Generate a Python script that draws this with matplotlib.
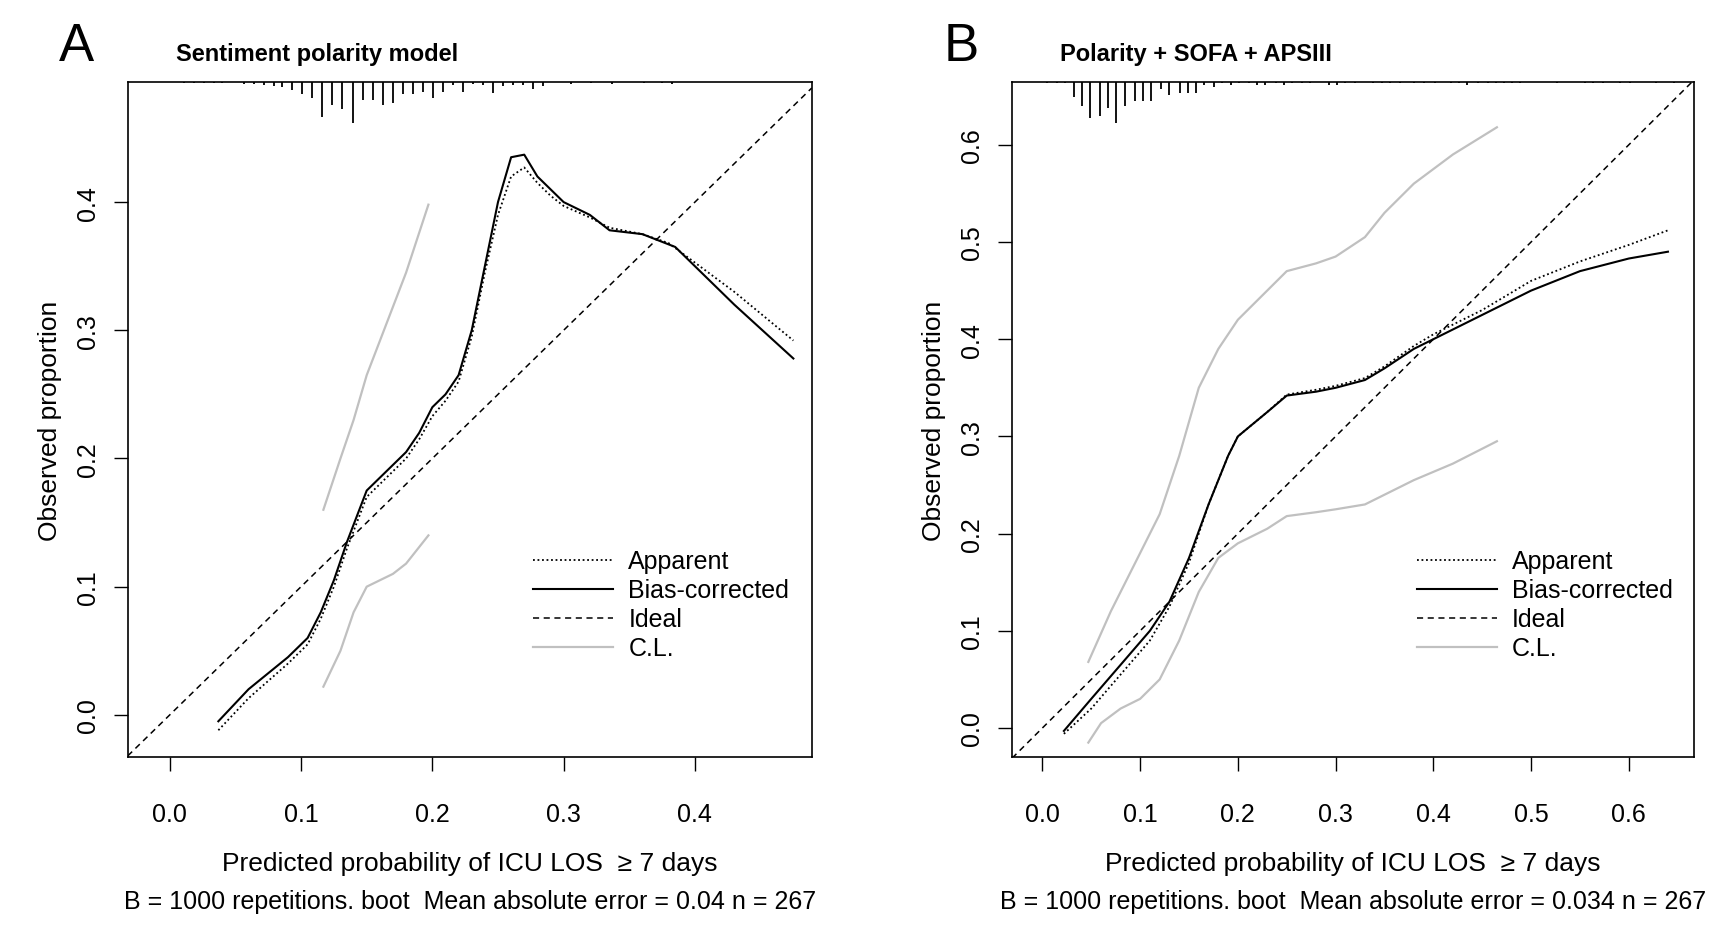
import matplotlib
matplotlib.use("Agg")
import matplotlib.pyplot as plt
import matplotlib.transforms as mtrans
from matplotlib.lines import Line2D

plt.rcParams['font.family'] = ['Liberation Sans Narrow', 'Liberation Sans', 'DejaVu Sans']

# ---------- Panel A data ----------
A_app_x = [0.037,0.06,0.09,0.105,0.115,0.125,0.135,0.15,0.165,0.18,0.19,0.20,0.21,0.22,0.23,0.24,0.25,0.26,0.27,0.28,0.29,0.30,0.32,0.335,0.36,0.38,0.43,0.475]
A_app_y = [-0.012,0.013,0.04,0.055,0.075,0.10,0.13,0.17,0.185,0.20,0.215,0.233,0.245,0.26,0.295,0.345,0.39,0.42,0.427,0.415,0.405,0.397,0.388,0.38,0.375,0.368,0.33,0.292]
A_bc_x = [0.037,0.06,0.09,0.105,0.115,0.125,0.135,0.15,0.165,0.18,0.19,0.20,0.21,0.22,0.23,0.24,0.25,0.26,0.27,0.28,0.29,0.30,0.32,0.335,0.36,0.385,0.43,0.475]
A_bc_y = [-0.005,0.02,0.045,0.06,0.08,0.105,0.135,0.175,0.19,0.205,0.22,0.24,0.25,0.265,0.30,0.35,0.40,0.435,0.437,0.42,0.41,0.40,0.39,0.378,0.375,0.365,0.32,0.278]
A_clu_x = [0.117,0.13,0.14,0.15,0.165,0.18,0.197]
A_clu_y = [0.16,0.20,0.23,0.265,0.305,0.345,0.398]
A_cll_x = [0.117,0.13,0.14,0.15,0.16,0.17,0.18,0.197]
A_cll_y = [0.022,0.05,0.08,0.10,0.105,0.11,0.118,0.14]
A_rug_x = [0.0108,0.0184,0.0261,0.0337,0.0398,0.0566,0.0643,0.0719,0.0796,0.0857,0.0933,0.1010,0.1086,0.1163,0.1239,0.1315,0.1392,0.1468,0.1545,0.1622,0.1698,0.1774,0.1851,0.1927,0.2004,0.2080,0.2156,0.2233,0.2309,0.2386,0.2463,0.2539,0.2615,0.2692,0.2768,0.2845,0.3058,0.3212,0.3365,0.3609,0.3747,0.3824]
A_rug_h = [3,3,3,3,3,5,5,8,10,12,20,30,40,85,55,65,100,45,45,55,50,30,30,25,40,25,8,25,5,8,28,10,8,8,18,10,5,3,5,3,3,5]

# ---------- Panel B data ----------
B_app_x = [0.022,0.05,0.08,0.11,0.13,0.15,0.17,0.19,0.20,0.23,0.25,0.28,0.30,0.33,0.35,0.38,0.40,0.45,0.50,0.55,0.60,0.64]
B_app_y = [-0.006,0.02,0.055,0.09,0.125,0.17,0.23,0.28,0.30,0.325,0.343,0.348,0.352,0.36,0.372,0.393,0.405,0.43,0.46,0.48,0.497,0.512]
B_bc_x = B_app_x
B_bc_y = [-0.003,0.03,0.065,0.10,0.13,0.175,0.23,0.28,0.30,0.325,0.342,0.346,0.35,0.358,0.37,0.39,0.40,0.425,0.45,0.47,0.483,0.49]
B_clu_x = [0.047,0.07,0.10,0.12,0.14,0.16,0.18,0.20,0.23,0.25,0.28,0.30,0.33,0.35,0.38,0.42,0.465]
B_clu_y = [0.068,0.12,0.18,0.22,0.28,0.35,0.39,0.42,0.45,0.47,0.478,0.485,0.505,0.53,0.56,0.59,0.618]
B_cll_x = [0.047,0.06,0.08,0.10,0.12,0.14,0.16,0.18,0.20,0.23,0.25,0.28,0.30,0.33,0.35,0.38,0.42,0.465]
B_cll_y = [-0.015,0.005,0.02,0.03,0.05,0.09,0.14,0.175,0.19,0.205,0.218,0.222,0.225,0.23,0.24,0.255,0.272,0.295]
B_rug_x = [0.0047,0.0152,0.0235,0.0319,0.0402,0.0486,0.0590,0.0674,0.0757,0.0841,0.0945,0.1029,0.1112,0.1216,0.1300,0.1404,0.1488,0.1571,0.1655,0.1759,0.1842,0.1926,0.2010,0.2114,0.2197,0.2281,0.2385,0.2469,0.2552,0.2656,0.2740,0.2928,0.3011,0.3095,0.3199,0.3387,0.3470,0.3554,0.3658,0.3804,0.3909,0.4013,0.4180,0.4264,0.4347,0.4452,0.4556,0.4639,0.4723,0.4806,0.4890,0.527,0.5547,0.5634,0.5738,0.5911,0.6016,0.6275,0.6467]
B_rug_h = [3,3,5,40,65,95,90,70,110,65,50,50,50,20,35,30,30,30,10,15,5,8,5,5,8,10,5,10,3,5,3,8,10,3,3,3,3,3,3,3,3,3,3,3,10,3,3,3,3,3,3,3,3,3,3,3,3,3,3]

fig = plt.figure(figsize=(17.36, 9.28), dpi=100)

def panel(rect, letter, title, app, bc, clu, cll, rug, xlim, ylim, xticks, yticks, sub, lx):
    ax = fig.add_axes(rect)
    ax.set_xlim(*xlim); ax.set_ylim(*ylim)
    ax.plot(xlim, xlim, ls=(0, (4, 3)), color='black', lw=1.1)
    ax.plot(clu[0], clu[1], color='#c0c0c0', lw=1.6)
    ax.plot(cll[0], cll[1], color='#c0c0c0', lw=1.6)
    ax.plot(app[0], app[1], ls=(0, (1, 1.5)), color='black', lw=1.3)
    ax.plot(bc[0], bc[1], color='black', lw=1.5)
    tr = mtrans.blended_transform_factory(ax.transData, ax.transAxes)
    hmax = max(rug[1])
    ax.vlines(rug[0], [1 - 0.062 * h / hmax for h in rug[1]], 1, transform=tr, color='black', lw=1.3)
    ax.set_xticks(xticks); ax.set_yticks(yticks)
    ax.set_xticklabels([f"{t:.1f}" for t in xticks])
    ax.set_yticklabels([f"{t:.1f}" for t in yticks], rotation=90, va='center')
    ax.tick_params(direction='out', length=10, width=1, labelsize=18, pad=22)
    ax.tick_params(axis='y', pad=10)
    for s in ax.spines.values():
        s.set_linewidth(1.2)
    ax.set_xlabel("Predicted probability of ICU LOS  ≥ 7 days", fontsize=19, labelpad=18)
    ax.set_ylabel("Observed proportion", fontsize=19, labelpad=10)
    ax.text(0.5, -0.213, sub, transform=ax.transAxes, ha='center', va='center', fontsize=18)
    ax.text(lx, 1.015, letter, transform=ax.transAxes, fontsize=38, ha='left', va='bottom',
            family=['Liberation Sans', 'DejaVu Sans'])
    ax.text(0.07, 1.025, title, transform=ax.transAxes, fontsize=17, fontweight='bold', ha='left', va='bottom',
            family=['Liberation Sans', 'DejaVu Sans'])
    handles = [Line2D([], [], ls=(0, (1, 1.5)), color='black', lw=1.3),
               Line2D([], [], color='black', lw=1.5),
               Line2D([], [], ls=(0, (4, 3)), color='black', lw=1.1),
               Line2D([], [], color='#c0c0c0', lw=1.6)]
    ax.legend(handles, ["Apparent", "Bias-corrected", "Ideal", "C.L."], loc='lower left',
              bbox_to_anchor=(0.56, 0.11), frameon=False, fontsize=18, handlelength=3.2,
              labelspacing=0.2, handletextpad=0.6)
    return ax

panel([0.0736, 0.183, 0.394, 0.728], "A", "Sentiment polarity model",
      (A_app_x, A_app_y), (A_bc_x, A_bc_y), (A_clu_x, A_clu_y), (A_cll_x, A_cll_y),
      (A_rug_x, A_rug_h), (-0.032, 0.489), (-0.033, 0.494),
      [0.0, 0.1, 0.2, 0.3, 0.4], [0.0, 0.1, 0.2, 0.3, 0.4],
      "B = 1000 repetitions. boot  Mean absolute error = 0.04 n = 267", -0.1)
panel([0.583, 0.183, 0.393, 0.728], "B", "Polarity + SOFA + APSIII",
      (B_app_x, B_app_y), (B_bc_x, B_bc_y), (B_clu_x, B_clu_y), (B_cll_x, B_cll_y),
      (B_rug_x, B_rug_h), (-0.031, 0.667), (-0.03, 0.665),
      [0.0, 0.1, 0.2, 0.3, 0.4, 0.5, 0.6], [0.0, 0.1, 0.2, 0.3, 0.4, 0.5, 0.6],
      "B = 1000 repetitions. boot  Mean absolute error = 0.034 n = 267", -0.1)

fig.savefig("out.png", dpi=100, facecolor='white')
